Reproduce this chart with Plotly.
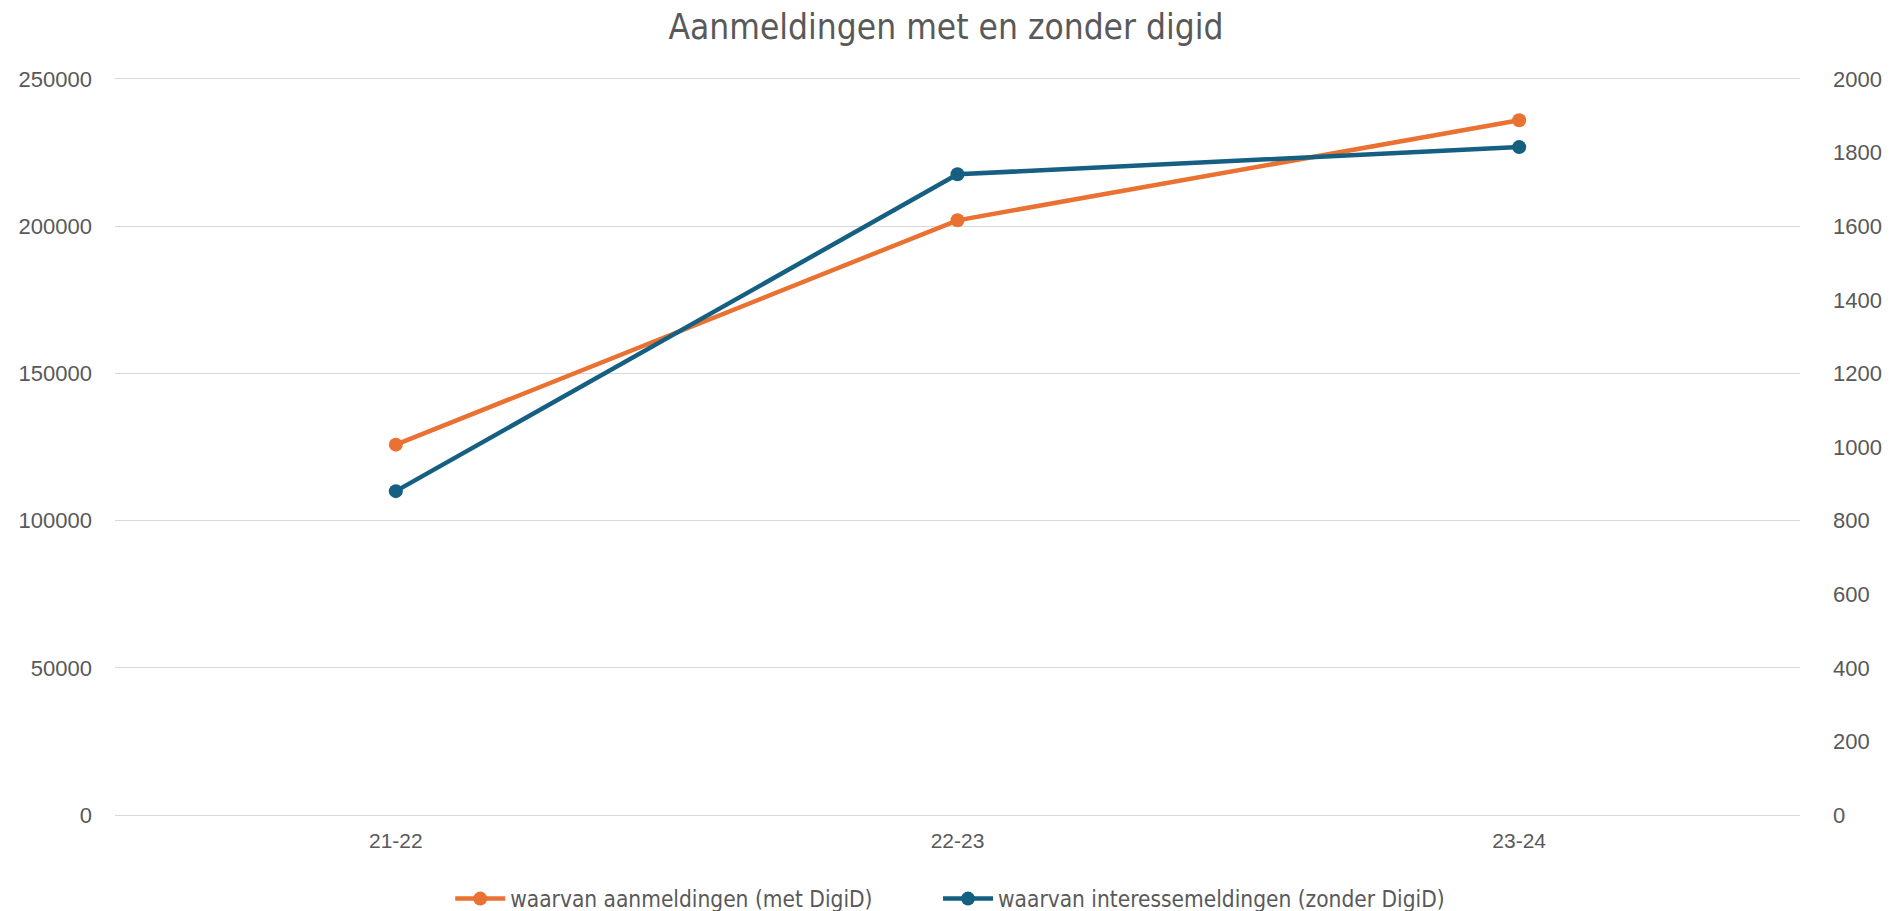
import plotly.graph_objects as go

categories = ["21-22", "22-23", "23-24"]
met_digid = [125800, 202000, 236000]
zonder_digid = [880, 1741, 1815]
name_met = "waarvan aanmeldingen (met DigiD)"
name_zonder = "waarvan interessemeldingen (zonder DigiD)"
title_text = "Aanmeldingen met en zonder digid"

ORANGE = "#E97132"
BLUE = "#156082"
TXT = "#595959"
GRID = "#D9D9D9"
NARROW = "Liberation Sans Narrow, DejaVu Sans Condensed, Arial Narrow, sans-serif"
SANS = "Liberation Sans, Arial, sans-serif"

fig = go.Figure()
fig.add_trace(go.Scatter(
    x=categories, y=met_digid, name=name_met, mode="lines+markers",
    line=dict(color=ORANGE, width=4.5), marker=dict(size=14, color=ORANGE),
    yaxis="y", legend="legend"))
fig.add_trace(go.Scatter(
    x=categories, y=zonder_digid, name=name_zonder, mode="lines+markers",
    line=dict(color=BLUE, width=4.5), marker=dict(size=14, color=BLUE),
    yaxis="y2", legend="legend2"))

legend_style = dict(orientation="h", xanchor="left", xref="container", yref="container",
                    y=0.022, yanchor="middle", bgcolor="rgba(0,0,0,0)",
                    font=dict(family=NARROW, size=22.5, color=TXT), itemwidth=50)

fig.update_layout(
    width=1898, height=911,
    paper_bgcolor="white", plot_bgcolor="white",
    margin=dict(l=107, r=106, t=71, b=104, autoexpand=False),
    title=dict(text=title_text, x=0.4942, xanchor="center", y=0.9791, yanchor="middle",
               font=dict(family=NARROW, size=35, color=TXT)),
    xaxis=dict(type="category", range=[-0.5, 2.5], showgrid=False, automargin=False,
               showline=True, mirror=True, linecolor=GRID, linewidth=1,
               zeroline=False, ticks="",
               tickfont=dict(family=SANS, size=21, color=TXT),
               ticklabelstandoff=7),
    yaxis=dict(range=[0, 250000], dtick=50000, showgrid=True, gridcolor=GRID,
               gridwidth=1, zeroline=False, showline=False, ticks="", automargin=False,
               tickformat="d", tickfont=dict(family=SANS, size=22, color=TXT),
               ticklabelstandoff=22),
    yaxis2=dict(range=[0, 2000], dtick=200, overlaying="y", side="right",
                showgrid=False, zeroline=False, showline=False, ticks="", automargin=False,
                tickformat="d", tickfont=dict(family=SANS, size=22, color=TXT),
                ticklabelstandoff=32),
    legend=dict(x=0.233, **legend_style),
    legend2=dict(x=0.490, **legend_style),
    showlegend=True,
)

fig.write_html("out.html")
